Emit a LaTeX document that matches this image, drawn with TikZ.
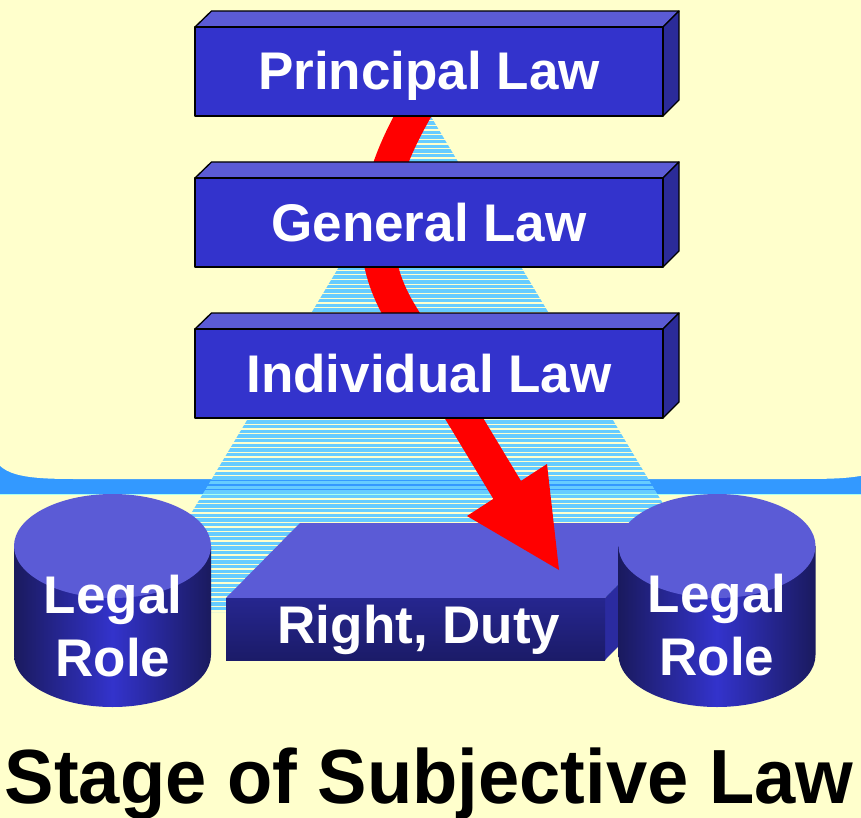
\documentclass[tikz,border=0pt]{standalone}
\usepackage{fontspec}
\setmainfont{Liberation Sans}
\usetikzlibrary{calc}
\definecolor{bgyellow}{HTML}{FFFFCC}
\definecolor{bandblue}{HTML}{3399FF}
\definecolor{bandline}{HTML}{AAFFEE}
\definecolor{stripeblue}{HTML}{66CCFF}
\definecolor{boxfront}{HTML}{3333CC}
\definecolor{boxtop}{HTML}{5B5BD6}
\definecolor{boxside}{HTML}{2B2B99}
\definecolor{cyldark}{HTML}{1A1A5E}
\definecolor{rdtop}{HTML}{26268F}
\definecolor{rdbot}{HTML}{1B1B68}
\definecolor{rdside}{HTML}{2B2BA0}
\definecolor{arrowred}{HTML}{FF0000}
\tikzset{
  boxface/.style={draw=black,line width=1.3pt,line join=round},
  boxlabel/.style={anchor=base,text=white,font=\fontsize{53}{63}\selectfont\bfseries,inner sep=0pt},
  titlelabel/.style={anchor=base,text=black,font=\fontsize{76.8}{90}\selectfont\bfseries,inner sep=0pt},
}
\newcommand\mylawbox[3]{%
  \fill[boxtop,boxface] (195,#2) -- (211.5,#2-16) -- (679,#2-16) -- (663,#2) -- cycle;
  \fill[boxside,boxface] (663,#2) -- (679,#2-16) -- (679,#2+73) -- (663,#2+89) -- cycle;
  \fill[boxfront,boxface] (195,#2) rectangle (663,#2+89);
  \node[boxlabel] (#1) at (429,#2+63) {#3};
}
\newcommand\mycyl[1]{%
  \shade[left color=cyldark,right color=cyldark,middle color=boxfront]
    (#1-98.5,546) -- (#1-98.5,655) arc[start angle=180,end angle=360,x radius=98.5pt,y radius=52pt]
    -- (#1+98.5,546) -- cycle;
  \fill[boxtop] (#1,546) ellipse[x radius=98.5pt,y radius=52pt];
}
\begin{document}
\begin{tikzpicture}[x=1pt,y=-1pt]
\useasboundingbox (0,0) rectangle (861,818);
% background
\fill[bgyellow] (0,0) rectangle (861,818);
% blue band
\fill[bandblue] (0,440) rectangle (861,494);
\draw[bandline,line width=0.9pt] (0,494.6) -- (861,494.6);
\fill[bgyellow] (-10,400) -- (-8,450) .. controls (-4,476) and (25,479) .. (75,479)
  -- (790,479) .. controls (840,479) and (862,479) .. (885,468) -- (885,400) -- cycle;
% striped pyramid
\begin{scope}
  \clip (430,115) -- (132,612) -- (728,612) -- cycle;
  \foreach \k in {0,...,106} {
    \draw[stripeblue,line width=3.4pt] (100,{118.4+\k*4.67}) -- (760,{118.4+\k*4.67});
  }
\end{scope}
% right, duty slab
\fill[boxtop] (226,598) -- (300,523) -- (679,523) -- (605,598) -- cycle;
\fill[rdside] (605,598) -- (679,523) -- (679,585) -- (605,660) -- cycle;
\shade[top color=rdtop,bottom color=rdbot] (226,598) rectangle (605,660);
\node[boxlabel] (rd) at (419,643) {Right, Duty};
% red arrow
\draw[arrowred,line width=33pt] (425,95) .. controls (378.5,170) and (358,242) .. (400,312) -- (509,493);
\fill[arrowred] (467,516) -- (547,464) -- (559,570) -- cycle;
% law boxes
\mylawbox{pl}{27}{Principal Law}
\mylawbox{gl}{178}{General Law}
\mylawbox{il}{329}{Individual Law}
% cylinders
\mycyl{112.5}
\mycyl{717}
\node[boxlabel] (lr1a) at (113,613) {Legal};
\node[boxlabel] (lr1b) at (113,676) {Role};
\node[boxlabel] (lr2a) at (717,612) {Legal};
\node[boxlabel] (lr2b) at (717,675) {Role};
% title
\node[titlelabel] (title) at (429,803) {\scalebox{0.965}[1]{Stage of Subjective Law}};
\end{tikzpicture}
\end{document}
